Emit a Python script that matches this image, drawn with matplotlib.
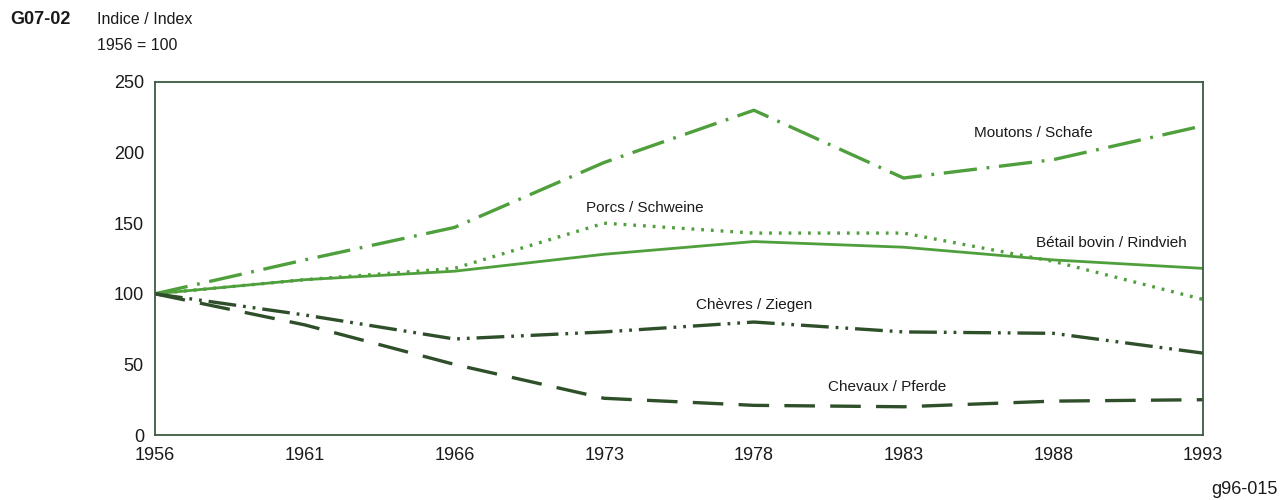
import matplotlib.pyplot as plt

plt.rcParams['font.family'] = ['Liberation Sans', 'DejaVu Sans']
plt.rcParams['lines.scale_dashes'] = False

years = ['1956', '1961', '1966', '1973', '1978', '1983', '1988', '1993']

moutons = [100, 124, 147, 193, 230, 182, 195, 219]
porcs = [100, 110, 118, 150, 143, 143, 123, 96]
bovin = [100, 110, 116, 128, 137, 133, 124, 118]
chevres = [100, 85, 68, 73, 80, 73, 72, 58]
chevaux = [100, 78, 50, 26, 21, 20, 24, 25]

light = '#4f9f3c'
dark = '#2e4f2a'
frame = '#3d5a40'
ink = '#1a1a1a'

fig = plt.figure(figsize=(12.84, 5.0), dpi=100)
ax = fig.add_axes([155 / 1284, 65 / 500, 1048 / 1284, 353 / 500])

x = range(len(years))
ax.plot(x, moutons, color=light, lw=2.4, ls=(0, (24, 7, 2, 7)))
ax.plot(x, porcs, color=light, lw=2.4, ls=(0, (2, 5)))
ax.plot(x, bovin, color=light, lw=2.0, ls='-')
ax.plot(x, chevres, color=dark, lw=2.4, ls=(0, (20, 5, 2, 5, 2, 5)))
ax.plot(x, chevaux, color=dark, lw=2.4, ls=(0, (22, 11)))

ax.set_xlim(0, len(years) - 1)
ax.set_ylim(0, 250)
ax.set_xticks(list(x))
ax.set_xticklabels(years)
ax.set_yticks([0, 50, 100, 150, 200, 250])
ax.tick_params(length=0, labelsize=13, pad=9, colors=ink)
ax.tick_params(axis='y', pad=8)
for s in ax.spines.values():
    s.set_color(frame)
    s.set_linewidth(1.3)

lab = dict(fontsize=11, color=ink, ha='center', va='center')
ax.text(5.87, 214, 'Moutons / Schafe', **lab)
ax.text(3.27, 161, 'Porcs / Schweine', **lab)
ax.text(6.39, 136, 'Bétail bovin / Rindvieh', **lab)
ax.text(4.0, 92, 'Chèvres / Ziegen', **lab)
ax.text(4.89, 34, 'Chevaux / Pferde', **lab)

fig.text(10 / 1284, 1 - 20 / 500, 'G07-02', fontsize=13, fontweight='bold',
         va='center', color=ink)
fig.text(97 / 1284, 1 - 20 / 500, 'Indice / Index', fontsize=11.5,
         va='center', color=ink)
fig.text(97 / 1284, 1 - 45 / 500, '1956 = 100', fontsize=11.5,
         va='center', color=ink)
fig.text(1278 / 1284, 1 - 489 / 500, 'g96-015', fontsize=13, ha='right',
         va='center', color=ink)

fig.savefig('out.png', dpi=100)
